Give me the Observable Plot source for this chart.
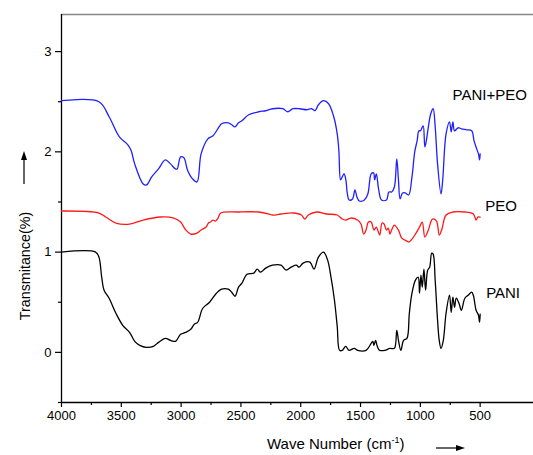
<!DOCTYPE html>
<html>
<head>
<meta charset="utf-8">
<script src="https://cdn.jsdelivr.net/npm/d3@7"></script>
<script src="https://cdn.jsdelivr.net/npm/@observablehq/plot@0.6"></script>
<style>
  html, body { margin: 0; padding: 0; background: #fff; overflow: hidden; }
</style>
</head>
<body>
<script>
// ---- data (wavenumber in cm-1, transmittance offset units) ----
const seriesNames = ["PANI+PEO", "PEO", "PANI"];
const seriesColors = ["#1f1fff", "#ff1a1a", "#000000"];

const paniPeoWn = [4000,3687,3602,3516,3445,3417,3388,3317,3289,3246,3189,3132,3089,3047,3033,3004,2976,2947,2904,2867,2833,2776,2734,2677,2662,2606,2577,2549,2520,2492,2435,2350,2293,2236,2150,2108,2065,2008,1951,1909,1880,1852,1809,1767,1724,1695,1681,1667,1653,1638,1624,1610,1596,1567,1547,1530,1510,1468,1439,1411,1391,1382,1368,1348,1325,1283,1263,1240,1217,1197,1183,1169,1149,1126,1098,1070,1047,1027,1012,998,990,976,962,950,933,913,893,876,856,827,813,785,756,742,728,714,685,657,614,571,551,529,514,505,500];
const paniPeoT  = [2.51,2.50,2.35,2.15,2.07,2.01,1.88,1.68,1.67,1.75,1.83,1.92,1.88,1.83,1.83,1.95,1.94,1.82,1.73,1.70,1.98,2.13,2.16,2.26,2.28,2.29,2.27,2.25,2.29,2.31,2.37,2.40,2.41,2.43,2.43,2.40,2.43,2.43,2.42,2.43,2.41,2.47,2.51,2.48,2.35,2.18,2.01,1.72,1.75,1.78,1.73,1.58,1.52,1.53,1.62,1.55,1.51,1.52,1.58,1.78,1.79,1.72,1.78,1.62,1.52,1.52,1.60,1.60,1.65,1.93,1.72,1.53,1.59,1.59,1.57,1.75,2.00,2.11,2.21,2.21,2.23,2.26,2.05,2.11,2.25,2.38,2.43,2.25,1.88,1.58,1.72,2.18,2.30,2.20,2.30,2.21,2.24,2.23,2.22,2.21,2.11,2.03,1.98,1.92,1.98];

const peoWn = [4000,3687,3630,3545,3431,3317,3175,3061,3004,2961,2919,2867,2833,2791,2771,2754,2734,2714,2691,2669,2520,2350,2264,2236,2165,2065,1994,1966,1937,1866,1781,1695,1653,1624,1582,1525,1496,1474,1454,1434,1411,1388,1368,1340,1320,1303,1283,1268,1254,1240,1217,1183,1155,1112,1098,1070,1041,1007,984,962,933,899,865,842,822,785,728,628,557,534,520,500];
const peoT  = [1.41,1.39,1.35,1.29,1.28,1.32,1.35,1.34,1.30,1.22,1.18,1.19,1.22,1.25,1.29,1.30,1.32,1.31,1.34,1.39,1.40,1.40,1.38,1.37,1.38,1.39,1.37,1.33,1.37,1.40,1.38,1.37,1.33,1.32,1.34,1.32,1.28,1.18,1.22,1.30,1.30,1.22,1.25,1.17,1.29,1.28,1.22,1.24,1.18,1.22,1.27,1.22,1.14,1.11,1.10,1.13,1.18,1.25,1.30,1.15,1.22,1.33,1.31,1.17,1.22,1.37,1.40,1.40,1.38,1.32,1.35,1.35];

const paniWn = [4000,3715,3687,3664,3644,3602,3545,3488,3431,3388,3346,3289,3232,3189,3132,3089,3047,3004,2961,2919,2890,2862,2819,2762,2705,2662,2606,2577,2549,2520,2492,2449,2392,2364,2336,2293,2236,2165,2122,2080,2037,2014,1980,1923,1889,1852,1809,1775,1747,1718,1695,1675,1653,1624,1596,1553,1525,1454,1411,1397,1388,1374,1360,1340,1297,1254,1217,1197,1183,1163,1140,1112,1092,1070,1041,1018,1007,995,984,970,956,939,922,905,893,876,856,842,827,808,785,756,742,728,714,700,677,657,628,600,571,557,534,514,505,500];
const paniT  = [1.00,1.00,0.95,0.75,0.62,0.54,0.39,0.27,0.20,0.11,0.07,0.05,0.06,0.10,0.14,0.12,0.11,0.18,0.20,0.23,0.28,0.30,0.44,0.50,0.59,0.63,0.63,0.60,0.56,0.65,0.69,0.78,0.79,0.83,0.80,0.84,0.87,0.87,0.82,0.85,0.87,0.85,0.89,0.90,0.83,0.95,1.00,0.92,0.75,0.52,0.26,0.02,0.02,0.06,0.02,0.04,0.02,0.02,0.09,0.11,0.07,0.12,0.06,0.02,0.02,0.04,0.04,0.22,0.12,0.02,0.12,0.14,0.39,0.59,0.72,0.75,0.59,0.77,0.65,0.83,0.62,0.82,0.85,0.99,0.98,0.72,0.32,0.12,0.04,0.12,0.39,0.57,0.40,0.55,0.45,0.54,0.49,0.42,0.54,0.57,0.60,0.57,0.42,0.37,0.30,0.38];

const xMajorTicks = [4000,3500,3000,2500,2000,1500,1000,500];
const xMinorTicks = [3750,3250,2750,2250,1750,1250,750];
const yMajorTicks = [0,1,2,3];
const yMinorTicks = [-0.5,0.5,1.5,2.5];

const xTitle = "Wave Number (cm";
const xTitleSup = "-1";
const yTitle = "Transmitance(%)";

// ---- build rows ----
const seriesWn = [paniPeoWn, peoWn, paniWn];
const seriesT = [paniPeoT, peoT, paniT];
const rows = seriesNames.flatMap((name, i) =>
  seriesWn[i].map((wn, j) => ({series: name, wn, t: seriesT[i][j]})));

const labelPos = {"PANI+PEO": [731, 2.57], "PEO": [458, 1.455], "PANI": [450, 0.59]};
const labelRows = seriesNames.map(name => ({series: name, wn: labelPos[name][0], t: labelPos[name][1]}));

const font = "'Liberation Sans', Arial, sans-serif";

const svg = Plot.plot({
  width: 533,
  height: 455,
  marginLeft: 61,
  marginRight: 0,
  marginTop: 14,
  marginBottom: 53,
  style: {fontFamily: font, fontSize: "13px", background: "#fff", color: "#000"},
  x: {domain: [4000, 54], axis: null, label: null},
  y: {domain: [-0.5, 3.37], axis: null, label: null},
  color: {domain: seriesNames, range: seriesColors},
  marks: [
    Plot.ruleY([3.37], {stroke: "#888", strokeWidth: 1.3}),
    Plot.ruleY([-0.5], {stroke: "#000", strokeWidth: 1.3}),
    Plot.ruleX([4000], {stroke: "#000", strokeWidth: 1.3}),
    Plot.axisX(xMajorTicks, {tickSize: 5, tickPadding: 3, tickFormat: d => String(d), label: null, fontSize: 13, strokeWidth: 1.2}),
    Plot.axisX(xMinorTicks, {tickSize: 3, tickFormat: () => "", label: null, strokeWidth: 1.2}),
    Plot.axisY(yMajorTicks, {tickSize: 6, tickPadding: 4, tickFormat: d => String(d), label: null, fontSize: 13, strokeWidth: 1.2}),
    Plot.axisY(yMinorTicks, {tickSize: 3, tickFormat: () => "", label: null, strokeWidth: 1.2}),
    Plot.line(rows, {x: "wn", y: "t", z: "series", stroke: "series", strokeWidth: 1.3, curve: "catmull-rom"}),
    Plot.text(labelRows, {x: "wn", y: "t", text: "series", textAnchor: "start", fontSize: 15, fill: "#000"})
  ]
});

document.body.appendChild(svg);

// ---- axis titles and arrows ----
const s = d3.select(svg);
s.append("text")
  .attr("transform", "translate(30,266) rotate(-90)")
  .attr("text-anchor", "middle")
  .attr("font-family", font)
  .attr("font-size", 14.3)
  .attr("fill", "#000")
  .text(yTitle);

const xt = s.append("text")
  .attr("x", 267).attr("y", 449)
  .attr("text-anchor", "start")
  .attr("font-family", font)
  .attr("font-size", 15)
  .attr("fill", "#000");
xt.append("tspan").text(xTitle);
xt.append("tspan").attr("font-size", 9).attr("dy", -6).text(xTitleSup);
xt.append("tspan").attr("dy", 6).text(")");

// y arrow (up)
s.append("line").attr("x1", 24).attr("x2", 24).attr("y1", 184).attr("y2", 158).attr("stroke", "#000").attr("stroke-width", 1.2);
s.append("path").attr("d", "M24,151 L21,160 L27,160 Z").attr("fill", "#000");
// x arrow (right)
s.append("line").attr("x1", 436).attr("x2", 458).attr("y1", 448).attr("y2", 448).attr("stroke", "#000").attr("stroke-width", 1.2);
s.append("path").attr("d", "M465,448 L456,445 L456,451 Z").attr("fill", "#000");
</script>
</body>
</html>
